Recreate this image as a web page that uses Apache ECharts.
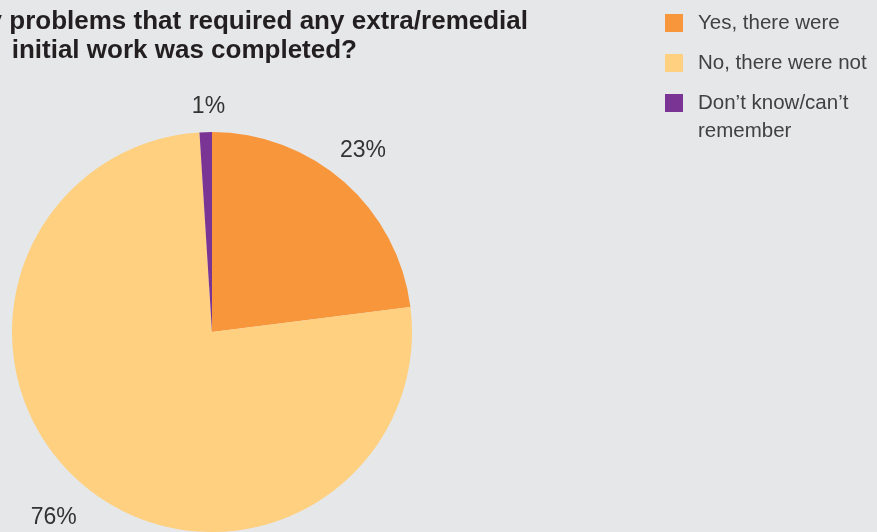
<!DOCTYPE html>
<html>
<head>
<meta charset="utf-8">
<script src="https://cdn.jsdelivr.net/npm/echarts@6/dist/echarts.min.js"></script>
<style>
  html, body { margin: 0; padding: 0; background: #e6e7e8; }
  #chart { width: 877px; height: 532px; }
</style>
</head>
<body>
<div id="chart"></div>
<script>
// 数据
var categories = ['Yes, there were', 'No, there were not', 'Don\u2019t know/can\u2019t remember'];
var values = [23, 76, 1];
var colors = ['#f7963b', '#fed080', '#7a3494'];
var titleLines = ['y problems that required any extra/remedial', 'initial work was completed?'];

// 百分比标签微调
var labelOffsets = [[-7, -2], [-6, 2], [4, 14]];

var chart = echarts.init(document.getElementById('chart'));

var pieData = categories.map(function (name, i) {
  return { name: name, value: values[i], itemStyle: { color: colors[i] } };
});

var option = {
  backgroundColor: '#e6e7e8',
  animation: false,
  legend: {
    orient: 'vertical',
    left: 665,
    top: 10,
    padding: 0,
    itemWidth: 18,
    itemHeight: 18,
    itemGap: 14,
    icon: 'rect',
    selectedMode: false,
    textStyle: { fontFamily: 'Liberation Sans', fontSize: 20.5, color: '#414042', lineHeight: 26, padding: [0, 0, 0, 10] },
    formatter: function (name) {
      return name === categories[2] ? 'Don\u2019t know/can\u2019t' : name;
    },
    data: categories
  },
  graphic: [
    {
      type: 'text', right: 877 - 528, top: 9,
      style: { text: titleLines[0], font: 'bold 26px "Liberation Sans"', fill: '#231f20' }
    },
    {
      type: 'text', right: 877 - 357, top: 38,
      style: { text: titleLines[1], font: 'bold 26px "Liberation Sans"', fill: '#231f20' }
    },
    {
      // 图例第三项的第二行
      type: 'text', left: 698, top: 121,
      style: { text: 'remember', font: '20.5px "Liberation Sans"', fill: '#414042' }
    }
  ],
  series: [
    {
      // 饼图本体
      type: 'pie',
      center: [212, 332],
      radius: 200,
      startAngle: 90,
      clockwise: true,
      silent: true,
      label: { show: false },
      labelLine: { show: false },
      data: pieData
    },
    {
      // 透明外环，仅用于放置百分比标签
      type: 'pie',
      center: [212, 332],
      radius: [200, 272],
      startAngle: 90,
      clockwise: true,
      silent: true,
      itemStyle: { color: 'rgba(0,0,0,0)' },
      label: {
        show: true,
        position: 'inside',
        formatter: '{c}%',
        fontFamily: 'Liberation Sans',
        fontSize: 23,
        color: '#333333'
      },
      labelLine: { show: false },
      data: categories.map(function (name, i) {
        return { name: name, value: values[i], label: { offset: labelOffsets[i] } };
      })
    }
  ]
};

chart.setOption(option);
</script>
</body>
</html>
